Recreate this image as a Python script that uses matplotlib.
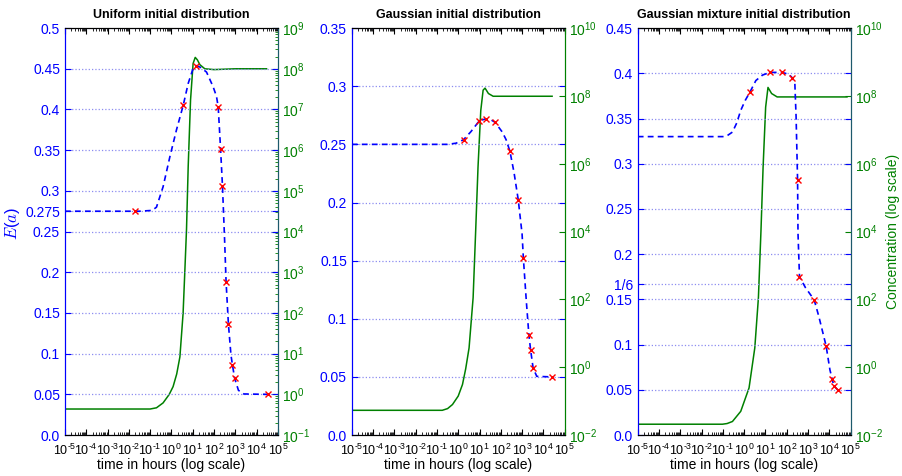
import numpy as np
import matplotlib
matplotlib.use("Agg")
import matplotlib.pyplot as plt
from matplotlib.ticker import LogLocator, NullLocator, FixedLocator, FuncFormatter

plt.rcParams["font.family"] = "Liberation Sans"
plt.rcParams["mathtext.fontset"] = "custom"
plt.rcParams["mathtext.rm"] = "Liberation Sans"
plt.rcParams["mathtext.it"] = "Liberation Sans:italic"
plt.rcParams["mathtext.bf"] = "Liberation Sans:bold"
plt.rcParams["mathtext.default"] = "regular"

BLUE = "#0000ff"
GREEN = "#008000"
TEAL = "#1d5a6c"
GRID = "#8c8cf0"

# ---- data (time as log10 hours) ----
titles = ["Uniform initial distribution",
          "Gaussian initial distribution",
          "Gaussian mixture initial distribution"]

# uniform
uni_e_logt = [-5, -1.5, -0.9, -0.70, -0.39, -0.07, 0.24, 0.555, 0.79, 0.99, 1.15, 1.35,
              1.65, 1.96, 2.12, 2.2, 2.31, 2.40, 2.5, 2.57, 2.68, 2.8, 2.87, 2.97, 3.15, 3.4, 4.52]
uni_e = [0.275, 0.275, 0.276, 0.280, 0.305, 0.342, 0.375, 0.405, 0.432, 0.448, 0.454, 0.452,
         0.446, 0.428, 0.416, 0.403, 0.352, 0.306, 0.24, 0.188, 0.136, 0.098, 0.086, 0.07, 0.055, 0.0505, 0.05]
uni_x_logt = [-1.71, 0.555, 1.15, 2.2, 2.31, 2.40, 2.57, 2.68, 2.87, 2.97, 4.52]
uni_x = [0.275, 0.405, 0.454, 0.403, 0.352, 0.306, 0.188, 0.136, 0.086, 0.07, 0.05]
uni_c_logt = [-5, -1.0, -0.7, -0.39, -0.1, 0.08, 0.25, 0.40, 0.55, 0.63, 0.71, 0.79, 0.90,
              1.02, 1.12, 1.22, 1.34, 1.57, 2.0, 3.0, 4.47]
uni_c_dec = [-0.36, -0.36, -0.33, -0.21, 0.0, 0.19, 0.5, 0.92, 1.99, 3.0, 4.04, 5.6, 7.23,
             8.13, 8.28, 8.22, 8.1, 8.0, 7.98, 8.0, 8.0]

# gaussian
gau_e_logt = [-5, -0.5, -0.1, 0.25, 0.6, 0.98, 1.29, 1.5, 1.73, 2.07, 2.25, 2.43, 2.62, 2.82,
              3.0, 3.06, 3.2, 3.32, 3.40, 3.52, 3.69, 4.41]
gau_e = [0.25, 0.25, 0.251, 0.254, 0.261, 0.270, 0.272, 0.2715, 0.269, 0.2606, 0.254, 0.244,
         0.226, 0.2023, 0.173, 0.1523, 0.115, 0.0862, 0.0733, 0.0575, 0.0505, 0.05]
gau_x_logt = [0.25, 0.98, 1.29, 1.73, 2.43, 2.82, 3.06, 3.32, 3.40, 3.52, 4.41]
gau_x = [0.254, 0.270, 0.272, 0.269, 0.244, 0.2023, 0.1523, 0.0862, 0.0733, 0.0575, 0.05]
gau_c_logt = [-5, -0.75, -0.5, -0.27, 0.0, 0.20, 0.35, 0.51, 0.70, 0.82, 0.93, 1.06, 1.17,
              1.26, 1.42, 1.64, 4.41]
gau_c_dec = [-1.27, -1.27, -1.22, -1.10, -0.85, -0.51, -0.05, 0.57, 2.05, 4.02, 5.90, 7.57,
             8.17, 8.23, 8.07, 7.99, 7.99]

# gaussian mixture
mix_e_logt = [-5, -1.0, -0.8, -0.55, -0.35, -0.16, 0.05, 0.28, 0.55, 0.86, 1.21, 1.76, 2.1,
              2.26, 2.38, 2.44, 2.51, 2.53, 2.6, 2.88, 3.29, 3.51, 3.85, 4.03, 4.13, 4.21, 4.41]
mix_e = [0.33, 0.33, 0.331, 0.335, 0.345, 0.359, 0.370, 0.3796, 0.392, 0.398, 0.401, 0.401,
         0.399, 0.395, 0.39, 0.352, 0.2815, 0.223, 0.175, 0.163, 0.1495, 0.131, 0.0986, 0.072,
         0.0625, 0.0546, 0.0495]
mix_x_logt = [0.28, 1.21, 1.76, 2.26, 2.51, 2.60, 3.29, 3.85, 4.13, 4.21, 4.41]
mix_x = [0.3796, 0.401, 0.401, 0.395, 0.2815, 0.1749, 0.1495, 0.0986, 0.0625, 0.0546, 0.0495]
mix_c_logt = [-5, -1.02, -0.8, -0.55, -0.16, 0.23, 0.50, 0.67, 0.79, 0.89, 1.01, 1.12, 1.29,
              1.55, 4.83]
mix_c_dec = [-1.68, -1.68, -1.66, -1.6, -1.30, -0.61, 0.57, 2.05, 4.02, 5.90, 7.67, 8.25,
             8.07, 7.97, 7.97]

# axis ticks
uni_yticks = [0.0, 0.05, 0.1, 0.15, 0.2, 0.25, 0.275, 0.3, 0.35, 0.4, 0.45, 0.5]
uni_ylabels = ["0.0", "0.05", "0.1", "0.15", "0.2", "0.25", "0.275", "0.3", "0.35", "0.4", "0.45", "0.5"]
gau_yticks = [0.0, 0.05, 0.1, 0.15, 0.2, 0.25, 0.3, 0.35]
gau_ylabels = ["0.0", "0.05", "0.1", "0.15", "0.2", "0.25", "0.3", "0.35"]
mix_yticks = [0.0, 0.05, 0.1, 0.15, 1 / 6, 0.2, 0.25, 0.3, 0.35, 0.4, 0.45]
mix_ylabels = ["0.0", "0.05", "0.1", "0.15", "1/6", "0.2", "0.25", "0.3", "0.35", "0.4", "0.45"]


def decade_label(v, pos):
    """10^k label with a short hyphen for negative exponents."""
    k = int(round(np.log10(v)))
    if k < 0:
        return "$10^{\u2010%d}$" % (-k)
    return "$10^{%d}$" % k


def panel(ax, title, e_logt, e, x_logt, x, c_logt, c_dec, yticks, ylabels, ylim,
          clim, cstep, rspine):
    """Draw one E(a) / concentration panel with a twin log axis."""
    ax2 = ax.twinx()
    ax.set_zorder(ax2.get_zorder() + 1)
    ax.patch.set_visible(False)

    ax2.plot(10.0 ** np.array(c_logt), 10.0 ** np.array(c_dec), color=GREEN, lw=1.1)
    ax.plot(10.0 ** np.array(e_logt), e, color=BLUE, lw=1.2, ls=(0, (3.5, 2.5)))
    ax.plot(10.0 ** np.array(x_logt), x, ls="none", marker="x", color="red",
            ms=4.5, mew=1.0)

    ax.set_xscale("log")
    ax.set_xlim(1e-5, 1e5)
    ax.xaxis.set_major_locator(LogLocator(base=10, numticks=30))
    ax.xaxis.set_minor_locator(LogLocator(base=10, subs=np.arange(2, 10), numticks=200))
    ax.xaxis.set_major_formatter(FuncFormatter(decade_label))
    ax.set_ylim(*ylim)
    ax.set_yticks(yticks)
    ax.set_yticklabels(ylabels)
    ax.yaxis.grid(True, linestyle=":", color=GRID, lw=0.9)

    ax.tick_params(which="both", direction="in", top=True, right=True, labelsize=10)
    ax.tick_params(axis="y", colors=BLUE, length=4)
    ax.tick_params(axis="x", which="major", length=4, pad=5.5, labelsize=9)
    ax.tick_params(axis="x", which="minor", length=2)
    ax.spines["left"].set_color(BLUE)
    ax.spines["right"].set_color(rspine)
    ax.set_xlabel("time in hours (log scale)", fontsize=10, labelpad=0)
    ax.set_title(title, fontsize=9, fontweight="bold", pad=7)

    ax2.set_yscale("log")
    ax2.set_ylim(10.0 ** clim[0], 10.0 ** clim[1])
    ax2.yaxis.set_major_locator(FixedLocator([10.0 ** k for k in range(clim[0], clim[1] + 1, cstep)]))
    if cstep == 1:
        ax2.yaxis.set_minor_locator(LogLocator(base=10, subs=np.arange(2, 10), numticks=200))
    else:
        ax2.yaxis.set_minor_locator(NullLocator())
    ax2.tick_params(which="both", direction="in", colors=GREEN, labelsize=10, pad=3)
    ax2.tick_params(which="major", length=4)
    ax2.tick_params(which="minor", length=2)
    ax2.spines["right"].set_color(rspine)
    ax2.spines["left"].set_color(BLUE)
    return ax2


fig = plt.figure(figsize=(9.02, 4.76), dpi=100)
bottom, height, width = 0.086, 0.855, 0.236
ax_a = fig.add_axes([0.072, bottom, width, height])
ax_b = fig.add_axes([0.390, bottom, width, height])
ax_c = fig.add_axes([0.707, bottom, width, height])

panel(ax_a, titles[0], uni_e_logt, uni_e, uni_x_logt, uni_x, uni_c_logt, uni_c_dec,
      uni_yticks, uni_ylabels, (0, 0.5), (-1, 9), 1, TEAL)
panel(ax_b, titles[1], gau_e_logt, gau_e, gau_x_logt, gau_x, gau_c_logt, gau_c_dec,
      gau_yticks, gau_ylabels, (0, 0.35), (-2, 10), 2, GREEN)
ax2_c = panel(ax_c, titles[2], mix_e_logt, mix_e, mix_x_logt, mix_x, mix_c_logt, mix_c_dec,
              mix_yticks, mix_ylabels, (0, 0.45), (-2, 10), 2, TEAL)

ax_a.set_ylabel(r"$\mathit{E}(\mathit{a})$", color=BLUE, fontsize=12,
                math_fontfamily="cm", labelpad=2)
ax_a.yaxis.set_label_coords(-0.2, 0.52)
ax2_c.set_ylabel("Concentration (log scale)", color=GREEN, fontsize=10, labelpad=2)

fig.savefig("out.png", dpi=100)
